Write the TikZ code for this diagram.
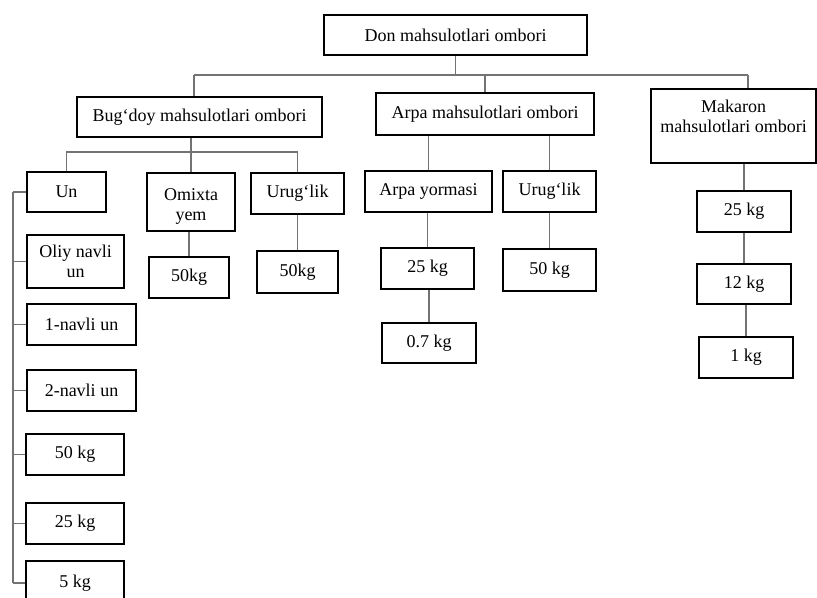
\documentclass[tikz,border=0pt]{standalone}
\usepackage{fontspec}
\setmainfont{Liberation Serif}
\tikzset{
  box/.style={draw=black, line width=1pt, inner sep=0pt, align=center,
    font=\fontsize{13.5pt}{15pt}\selectfont},
  conn/.style={draw=black!55, line width=0.8pt}
}
\newcommand\bx[6]{%
  \pgfmathsetmacro\bxw{(#4-#2)*0.75}%
  \pgfmathsetmacro\bxh{(#5-#3)*0.75}%
  \node[box, minimum width=\bxw pt, minimum height=\bxh pt] (#1) at ({(#2+#4)/2},{(#3+#5)/2}) {#6};}
\newcommand\shiftedtext[2]{\raisebox{#1}[\height][\depth]{\begin{tabular}{@{}c@{}}#2\end{tabular}}}
\begin{document}
\begin{tikzpicture}[x=0.75pt, y=-0.75pt]
\useasboundingbox (0,0) rectangle (817,597);
\clip (0,0) rectangle (817,597);
\fill[white] (0,0) rectangle (817,597);
% boxes
\bx{don}{324}{15}{587}{55}{Don mahsulotlari ombori}
\bx{bug}{77}{97}{322}{137}{Bug‘doy mahsulotlari ombori}
\bx{arpa}{376}{93}{594}{135}{Arpa mahsulotlari ombori}
\bx{mak}{651}{89}{816}{163}{\shiftedtext{6pt}{Makaron\\mahsulotlari ombori}}
\bx{un}{27}{172}{106}{212}{Un}
\bx{omx}{147}{173}{235}{231}{\shiftedtext{-3pt}{Omixta\\yem}}
\bx{uru1}{251}{173}{344}{214}{Urug‘lik}
\bx{omk}{149}{257}{229}{298}{50kg}
\bx{uruk}{257}{251}{338}{293}{50kg}
\bx{oliy}{27}{235}{124}{288}{Oliy navli\\un}
\bx{nav1}{27}{304}{136}{345}{1-navli un}
\bx{nav2}{27}{370}{136}{411}{2-navli un}
\bx{k50}{26}{434}{124}{475}{50 kg}
\bx{k25}{26}{503}{124}{544}{25 kg}
\bx{k5}{26}{561}{124}{605}{5 kg}
\bx{ay}{365}{171}{492}{212}{Arpa yormasi}
\bx{uru2}{503}{171}{596}{212}{Urug‘lik}
\bx{a25}{381}{248}{474}{289}{25 kg}
\bx{a07}{382}{323}{476}{363}{0.7 kg}
\bx{u50}{503}{249}{596}{291}{50 kg}
\bx{mk25}{697}{191}{791}{232}{25 kg}
\bx{mk12}{697}{264}{791}{304}{12 kg}
\bx{mk1}{699}{337}{793}{378}{1 kg}
% coordinates
\coordinate (tb1) at (194,75);
\coordinate (tb2) at (748,75);
\coordinate (bb) at (0,152);
\coordinate (lx) at (13,0);
\coordinate (k5b) at (13,583);
% top level
\draw[conn] (tb1) -- (tb2);
\draw[conn] (don.south) -- (don.south |- tb1);
\draw[conn] (tb1) -- (tb1 |- bug.north);
\draw[conn] (arpa.north) -- (arpa.north |- tb1);
\draw[conn] (tb2) -- (tb2 |- mak.north);
% bug'doy children
\draw[conn] (un.north) -- (un.north |- bb) -- (uru1.north |- bb) -- (uru1.north);
\draw[conn] (omx.north) -- (omx.north |- bug.south);
\draw[conn] (omk.north) -- (omk.north |- omx.south);
\draw[conn] (uruk.north) -- (uruk.north |- uru1.south);
% left list
\draw[conn] (un.west -| lx) -- (k5b);
\draw[conn] (un.west) -- (un.west -| lx);
\draw[conn] (oliy.west) -- (oliy.west -| lx);
\draw[conn] (nav1.west) -- (nav1.west -| lx);
\draw[conn] (nav2.west) -- (nav2.west -| lx);
\draw[conn] (k50.west) -- (k50.west -| lx);
\draw[conn] (k25.west) -- (k25.west -| lx);
\draw[conn] (k5b) -- (k5b -| k5.west);
% arpa children
\draw[conn] (ay.north) -- (ay.north |- arpa.south);
\draw[conn] (uru2.north) -- (uru2.north |- arpa.south);
\draw[conn] (a25.north) -- (a25.north |- ay.south);
\draw[conn] (a07.north) -- (a07.north |- a25.south);
\draw[conn] (u50.north) -- (u50.north |- uru2.south);
% makaron children
\draw[conn] (mk25.north) -- (mk25.north |- mak.south);
\draw[conn] (mk12.north) -- (mk12.north |- mk25.south);
\draw[conn] (mk1.north) -- (mk1.north |- mk12.south);
\end{tikzpicture}
\end{document}
